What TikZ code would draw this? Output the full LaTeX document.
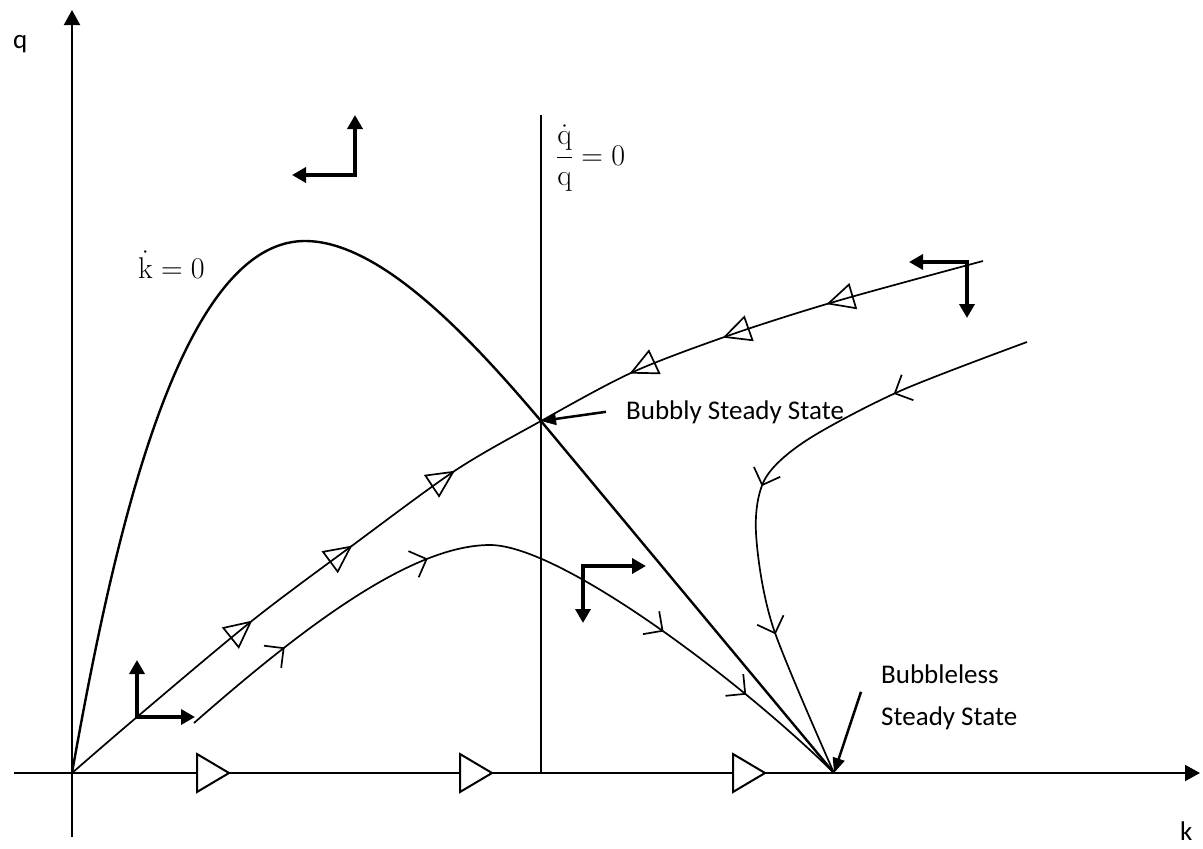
\RequirePackage{fix-cm}
\documentclass[tikz,border=0pt]{standalone}
\usepackage{amsmath}
\usepackage[no-math]{fontspec}
\setmainfont{Carlito}
\usetikzlibrary{arrows.meta,decorations.markings}

\begin{document}
\begin{tikzpicture}[x=1pt,y=-1pt,
  lbl/.style={inner sep=0pt,font=\fontsize{27}{42}\selectfont},
  mathlbl/.style={inner sep=0pt,font=\fontsize{30}{36}\selectfont},
  axisline/.style={line width=2pt,-{Triangle[length=15pt,width=16pt]}},
  phase/.style={line width=4pt,{Triangle[length=14pt,width=15pt]}-{Triangle[length=14pt,width=15pt]}},
  pointer/.style={line width=2.5pt,-{Triangle[length=15pt,width=12pt]}},
  traj/.style={line width=1.7pt},
  otri/.tip={Triangle[open,length=28pt,width=27pt]},
  atri/.tip={Triangle[fill=white,length=35pt,width=41pt]},
  sbarb/.tip={Straight Barb[length=14pt,width=28pt]}]
  \useasboundingbox (0,0) rectangle (1203,849);
  \coordinate (O) at (72,773);
  \coordinate (bubbly) at (541,421);
  \coordinate (bubbleless) at (834,773);
  % axes
  \draw[axisline] (72,837) -- (72,10);
  \draw[axisline, postaction={decorate, decoration={markings,
      mark=at position 217pt with {\arrow{atri}},
      mark=at position 480pt with {\arrow{atri}},
      mark=at position 753pt with {\arrow{atri}}}}] (14,773) -- (1200,773);
  \node[lbl, anchor=base west] (qlbl) at (13,48) {q};
  \node[lbl, anchor=base west] (klbl) at (1180,840) {k};
  % loci
  \draw[line width=2pt] (541,115) -- (541,773);
  \draw[line width=2.4pt] (O) .. controls (110,560) and (175,241) .. (305,241)
    .. controls (380,241) and (470,337) .. (bubbly) -- (bubbleless);
  \node[mathlbl, anchor=base west] (kdot) at (138,278) {$\dot{\mathrm{k}} = 0$};
  \node[mathlbl, anchor=base west] (qdot) at (556,165) {$\dfrac{\dot{\mathrm{q}}}{\mathrm{q}} = 0$};
  % saddle path
  \draw[traj, postaction={decorate, decoration={markings,
      mark=at position 236pt with {\arrow{otri}},
      mark=at position 361pt with {\arrow{otri}},
      mark=at position 488pt with {\arrow{otri}},
      mark=at position 688pt with {\arrowreversed{otri}},
      mark=at position 788pt with {\arrowreversed{otri}},
      mark=at position 897pt with {\arrowreversed{otri}}}}]
    plot[smooth] coordinates {(O) (137,717) (253,620) (353,545) (456,470) (bubbly)
      (633,372) (733,334) (837,301) (983,261)};
  % other trajectories
  \draw[traj, postaction={decorate, decoration={markings,
      mark=at position 118pt with {\arrow{sbarb}},
      mark=at position 287pt with {\arrow{sbarb}},
      mark=at position 547pt with {\arrow{sbarb}},
      mark=at position 651pt with {\arrow{sbarb}}}}]
    (194,723) .. controls (300,630) and (410,545) .. (490,545)
    .. controls (560,545) and (740,680) .. (bubbleless);
  \draw[traj, postaction={decorate, decoration={markings,
      mark=at position 143pt with {\arrow{sbarb}},
      mark=at position 307pt with {\arrow{sbarb}},
      mark=at position 458pt with {\arrow{sbarb}}}}]
    plot[smooth] coordinates {(1027,342) (900,391) (807,440) (765,479) (756,533)
      (773,627) (bubbleless)};
  % direction arrows
  \foreach \x/\y/\dx/\dy in {355/175/-63/-60, 137/717/58/-57, 583/566/63/57, 967/262/-58/56}
    \draw[phase] (\x+\dx,\y) -- (\x,\y) -- (\x,\y+\dy);
  % steady states
  \node[lbl, anchor=base west] (bubblylbl) at (626,419) {Bubbly Steady State};
  \node[lbl, anchor=base west, align=left] (bubblelesslbl) at (881,725) {Bubbleless\\Steady State};
  \draw[pointer] ([shift={(-20,0)}]bubblylbl.west) -- (bubbly);
  \draw[pointer] ([shift={(-20,-5)}]bubblelesslbl.west) -- (bubbleless);
\end{tikzpicture}
\end{document}
